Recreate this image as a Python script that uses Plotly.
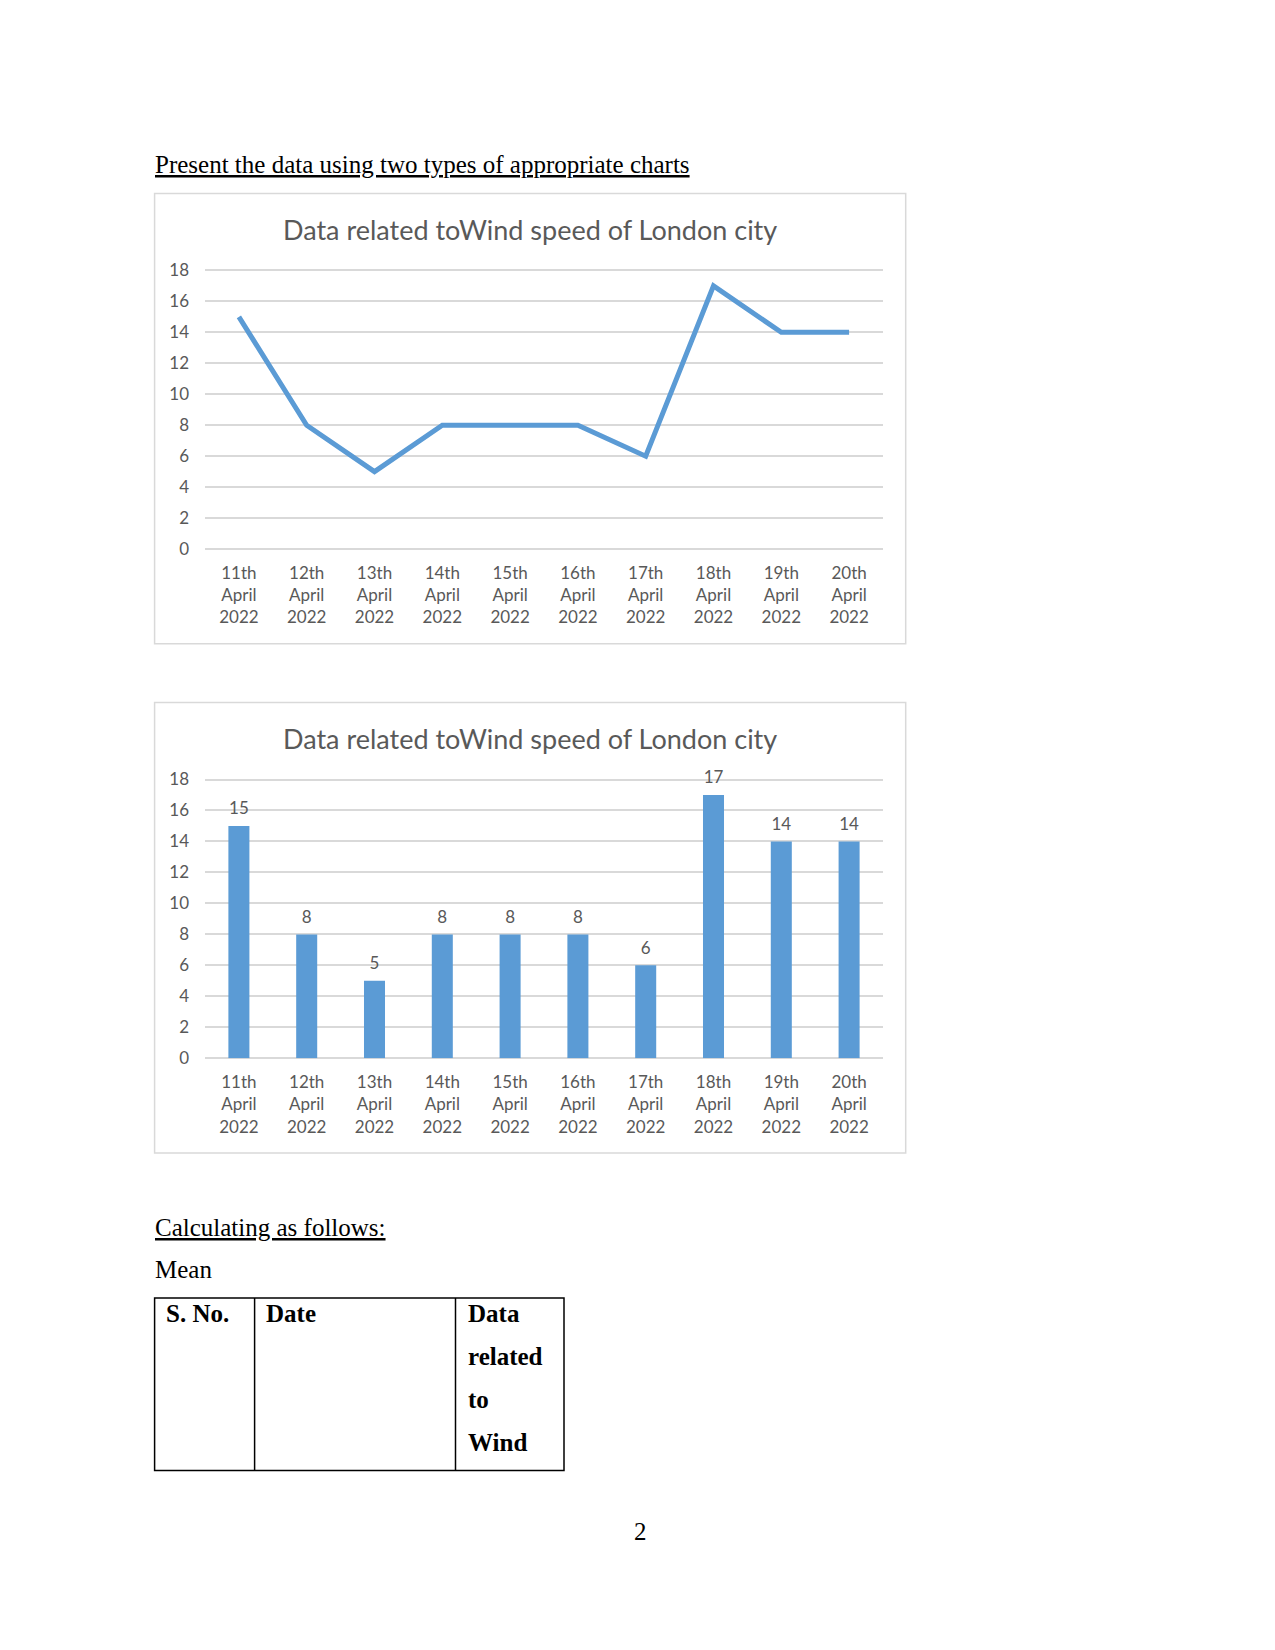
import plotly.graph_objects as go

W, H = 1275, 1650

dates = ["11th<br>April<br>2022", "12th<br>April<br>2022", "13th<br>April<br>2022",
         "14th<br>April<br>2022", "15th<br>April<br>2022", "16th<br>April<br>2022",
         "17th<br>April<br>2022", "18th<br>April<br>2022", "19th<br>April<br>2022",
         "20th<br>April<br>2022"]
wind_speed = [15, 8, 5, 8, 8, 8, 6, 17, 14, 14]
y_ticks = [0, 2, 4, 6, 8, 10, 12, 14, 16, 18]
chart_title = "Data related toWind speed of London city"

BLUE = "#5B9BD5"
GREY = "#595959"
GRID = "#D9D9D9"
SANS = "Lato, Carlito, Calibri, sans-serif"
SERIF = "Liberation Serif, Times New Roman, serif"

Y_TOP = 18.1  # tiny headroom so the 18 gridline is drawn
UNIT = 15.48  # px per unit


def px(x):
    return x / W


def py(y):
    return 1 - y / H


fig = go.Figure()
fig.add_trace(go.Scatter(x=dates, y=wind_speed, mode="lines",
                         line=dict(color=BLUE, width=5),
                         xaxis="x", yaxis="y", showlegend=False))
fig.add_trace(go.Bar(x=dates, y=wind_speed, marker=dict(color=BLUE, line=dict(width=0)),
                     width=0.31, xaxis="x2", yaxis="y2", showlegend=False))
fig.add_trace(go.Scatter(x=dates, y=wind_speed, mode="markers+text",
                         marker=dict(size=10, opacity=0), text=wind_speed,
                         textposition="top center", cliponaxis=False,
                         textfont=dict(family=SANS, size=17, color=GREY),
                         xaxis="x2", yaxis="y2", showlegend=False, hoverinfo="skip"))

xdom = [px(205), px(883)]
common_x = dict(domain=xdom, showgrid=False, showline=False, zeroline=False,
                range=[-0.5, 9.5], automargin=False,
                tickfont=dict(family=SANS, size=17, color=GREY),
                ticks="", ticklabelstandoff=12, fixedrange=True)
common_y = dict(range=[0, Y_TOP], tickvals=y_ticks, showgrid=True, gridcolor=GRID, gridwidth=1.5,
                zeroline=True, zerolinecolor=GRID, zerolinewidth=1.5, showline=False,
                automargin=False,
                tickfont=dict(family=SANS, size=17, color=GREY), ticks="",
                ticklabelstandoff=15, fixedrange=True)

head = (Y_TOP - 18) * UNIT
fig.update_layout(
    width=W, height=H, autosize=False,
    margin=dict(l=0, r=0, t=0, b=0, pad=0, autoexpand=False),
    showlegend=False,
    paper_bgcolor="white", plot_bgcolor="white",
    xaxis=dict(common_x, anchor="y"),
    yaxis=dict(common_y, domain=[py(549.1), py(270.4 - head)], anchor="x"),
    xaxis2=dict(common_x, anchor="y2"),
    yaxis2=dict(common_y, domain=[py(1058.3), py(779.5 - head)], anchor="x2"),
)

shapes = []
# chart borders
for top, bot in [(193.6, 643.8), (702.6, 1153.0)]:
    shapes.append(dict(type="rect", xref="paper", yref="paper",
                       x0=px(154.6), x1=px(905.7), y0=py(bot), y1=py(top),
                       line=dict(color=GRID, width=1.5), fillcolor="rgba(0,0,0,0)", layer="below"))
# table
tl, tr, tt, tb = 154.6, 564.0, 1298.0, 1470.6
shapes.append(dict(type="rect", xref="paper", yref="paper", x0=px(tl), x1=px(tr),
                   y0=py(tb), y1=py(tt), line=dict(color="black", width=1.5)))
for cx in [254.6, 455.5]:
    shapes.append(dict(type="line", xref="paper", yref="paper", x0=px(cx), x1=px(cx),
                       y0=py(tb), y1=py(tt), line=dict(color="black", width=1.5)))

annotations = []


def text(t, x, y, size=25, family=SERIF, color="black", xanchor="left"):
    annotations.append(dict(text=t, x=px(x), y=py(y), xref="paper", yref="paper",
                            xanchor=xanchor, yanchor="middle", showarrow=False,
                            font=dict(family=family, size=size, color=color)))


text("<u>Present the data using two types of appropriate charts</u>", 153, 165)
text(chart_title, 530, 229, size=27, family=SANS, color=GREY, xanchor="center")
text(chart_title, 530, 738, size=27, family=SANS, color=GREY, xanchor="center")
text("<u>Calculating as follows:</u>", 153, 1227)
text("Mean", 153, 1269)
text("<b>S. No.</b>", 164, 1313)
text("<b>Date</b>", 264, 1313)
for i, w in enumerate(["Data", "related", "to", "Wind"]):
    text("<b>" + w + "</b>", 466, 1313 + i * 43)
text("2", 640, 1531, xanchor="center")

fig.update_layout(shapes=shapes, annotations=annotations)
fig.write_html("out.html")
